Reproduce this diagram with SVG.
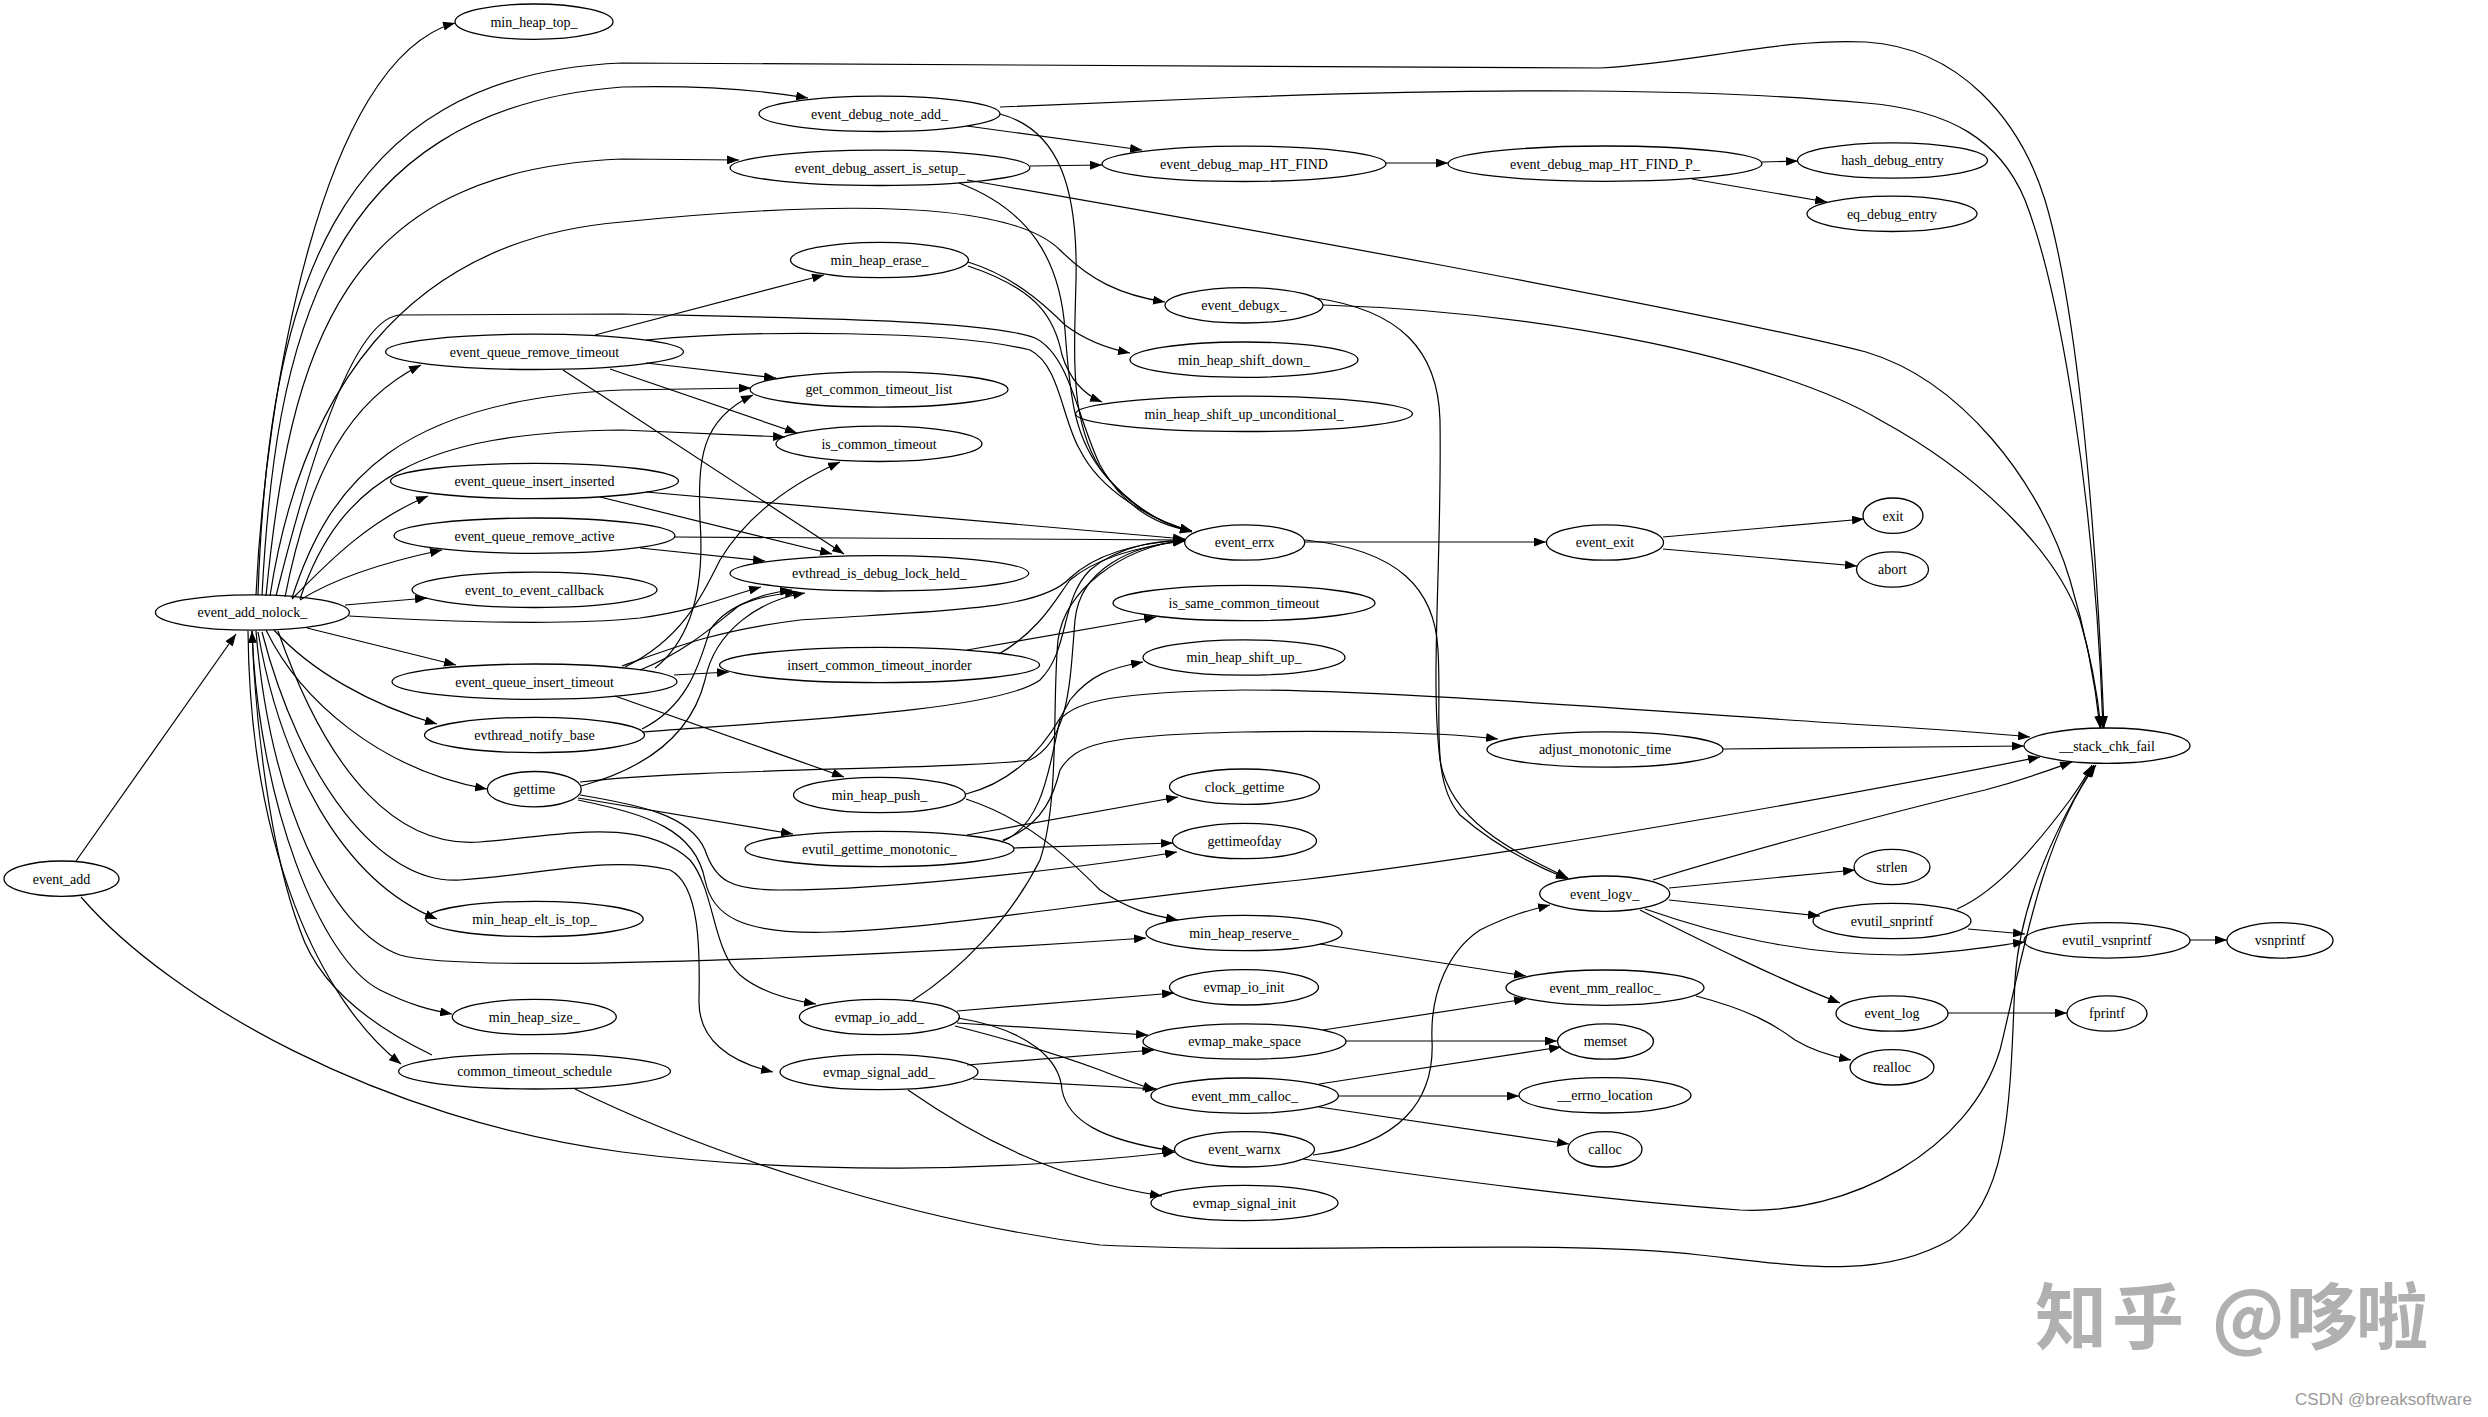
<svg xmlns="http://www.w3.org/2000/svg" width="2488" height="1417" viewBox="0 0 2488 1417">
<style>
.node ellipse{fill:none;stroke:#000;stroke-width:1.3}
.node text{font-family:"Liberation Serif","Times New Roman",serif;font-size:14px;text-anchor:middle;fill:#000}
.edges path{fill:none;stroke:#000;stroke-width:1.2;marker-end:url(#arr)}
.wm{font-family:"Noto Sans CJK SC",sans-serif;font-size:72px;font-weight:bold;fill:#b0b0b0}
.csdn{font-family:"Liberation Sans",Arial,sans-serif;font-size:17px;fill:#9a9a9a;text-anchor:end}
</style>
<defs>
<marker id="arr" markerUnits="userSpaceOnUse" markerWidth="13" markerHeight="9" refX="12" refY="4.5" orient="auto">
<path d="M0,0 L12,4.5 L0,9 z" fill="#000"/>
</marker>
</defs>
<rect width="2488" height="1417" fill="#fff"/>
<g class="edges">
<path d="M76,861 L236,634"/>
<path d="M81,897 C170,1000 380,1120 622,1152 C800,1175 1000,1172 1175,1152"/>
<path d="M256,595 C265,400 320,60 455,23"/>
<path d="M258,595 C268,300 330,75 622,63 L1600,68 C1700,62 1780,38 1866,42 C1960,48 2020,120 2045,200 C2075,300 2095,500 2104,728"/>
<path d="M262,595 C275,350 320,110 622,87 C700,85 760,90 808,98"/>
<path d="M266,596 C290,350 340,170 622,159 L739,160"/>
<path d="M270,596 C300,400 400,240 622,222 C760,208 1000,190 1060,250 C1090,280 1120,295 1165,302"/>
<path d="M276,596 C320,420 360,318 400,315 L622,314 C800,318 990,320 1035,338 C1070,355 1078,420 1100,465 C1125,510 1160,526 1192,531"/>
<path d="M285,597 C310,470 350,400 421,365"/>
<path d="M292,598 C330,480 400,400 622,390 L751,388"/>
<path d="M300,599 C340,480 420,432 622,430 L785,437"/>
<path d="M292,599 C330,560 370,520 428,496"/>
<path d="M300,600 C335,578 385,562 442,550"/>
<path d="M345,605 L427,598"/>
<path d="M349,616 C450,622 560,626 640,618 C700,610 730,595 761,587"/>
<path d="M307,628 L456,665"/>
<path d="M274,630 C310,670 370,705 437,724"/>
<path d="M266,630 C300,700 380,770 487,789"/>
<path d="M278,631 C330,780 400,848 480,842 C560,836 640,815 690,860 C715,890 712,950 740,975 C760,992 790,1000 816,1004"/>
<path d="M262,632 C300,780 380,885 460,880 C540,875 610,855 670,870 C700,885 700,950 699,1000 C698,1040 730,1062 773,1072"/>
<path d="M258,632 C280,760 340,880 437,919"/>
<path d="M252,631 C258,800 320,960 380,990 C410,1005 430,1010 452,1014"/>
<path d="M248,631 C250,850 320,1000 401,1064"/>
<path d="M256,631 C270,800 330,930 400,955 C470,975 900,955 1146,938"/>
<path d="M432,1055 C380,1030 320,990 300,930 C270,850 255,720 252,631"/>
<path d="M575,1089 C700,1150 900,1220 1100,1245 C1300,1255 1550,1238 1700,1255 C1800,1266 1880,1280 1950,1240 C2010,1200 2010,1100 2015,980 C2020,900 2060,820 2094,765"/>
<path d="M967,126 L1142,150"/>
<path d="M1000,107 L1244,97 C1500,88 1700,88 1866,103 C1950,110 2000,140 2025,200 C2060,290 2095,500 2103,728"/>
<path d="M1000,114 C1060,130 1078,190 1076,280 C1074,360 1070,420 1100,468 C1130,510 1165,525 1192,531"/>
<path d="M1030,166 L1102,165"/>
<path d="M967,180 C1200,220 1700,310 1866,352 C1960,380 2040,480 2070,580 C2085,630 2095,680 2100,728"/>
<path d="M959,183 C1030,210 1060,260 1065,330 C1070,400 1075,440 1105,475 C1135,510 1165,525 1192,532"/>
<path d="M1386,163 L1448,163"/>
<path d="M1762,162 L1798,161"/>
<path d="M1692,179 L1827,202"/>
<path d="M1315,298 C1400,310 1438,350 1440,420 C1442,560 1430,680 1440,760 C1450,820 1510,850 1568,878"/>
<path d="M1323,305 C1550,312 1780,360 1880,420 C1990,480 2060,560 2080,620 C2092,660 2098,700 2101,728"/>
<path d="M968,262 C1010,275 1040,300 1065,325 C1085,340 1105,348 1130,353"/>
<path d="M968,266 C1040,290 1055,320 1062,355 C1070,380 1085,395 1102,402"/>
<path d="M595,335 L824,275"/>
<path d="M646,363 L776,378"/>
<path d="M610,369 L797,433"/>
<path d="M563,370 L844,554"/>
<path d="M646,340 C750,330 950,330 1030,350 C1060,365 1062,420 1080,450 C1100,490 1150,520 1192,531"/>
<path d="M600,497 L832,554"/>
<path d="M646,492 L1185,539"/>
<path d="M640,548 L765,561"/>
<path d="M674,537 L1185,540"/>
<path d="M655,668 C690,640 705,590 700,520 C698,460 700,420 753,395"/>
<path d="M625,667 C680,640 700,600 720,560 C750,510 800,480 840,462"/>
<path d="M640,670 C690,650 720,620 740,605 C760,595 775,592 792,590"/>
<path d="M622,666 C680,645 720,630 800,620 C950,610 1040,610 1070,578 C1100,550 1150,542 1185,540"/>
<path d="M674,675 L729,672"/>
<path d="M615,696 L844,777"/>
<path d="M642,729 C690,705 700,660 710,630 C730,600 770,595 797,592"/>
<path d="M642,732 C800,720 1000,710 1040,680 C1070,650 1060,600 1090,570 C1120,545 1160,540 1185,541"/>
<path d="M581,786 C640,770 690,740 705,680 C715,630 760,600 805,593"/>
<path d="M580,782 C700,768 950,770 1030,760 C1070,740 1070,680 1075,620 C1080,570 1130,545 1185,541"/>
<path d="M578,798 L793,834"/>
<path d="M580,795 C640,805 690,815 705,850 C715,880 730,890 780,890 C900,890 1100,865 1177,852"/>
<path d="M578,800 C650,815 695,830 705,880 C712,915 740,935 832,932 C950,928 1100,900 1300,880 C1550,850 1900,785 2040,757"/>
<path d="M967,835 L1178,797"/>
<path d="M1014,848 L1173,843"/>
<path d="M1003,840 C1045,825 1055,790 1060,770 C1075,745 1100,735 1244,732 C1350,730 1450,733 1498,739"/>
<path d="M1001,842 C1045,825 1050,760 1060,720 C1075,700 1120,692 1244,690 C1400,690 1700,715 1866,725 C1950,730 2000,734 2030,737"/>
<path d="M967,650 L1156,617"/>
<path d="M999,654 C1040,630 1055,600 1070,580 C1100,555 1150,545 1185,541"/>
<path d="M966,794 C1020,780 1050,740 1070,700 C1090,675 1110,668 1143,662"/>
<path d="M966,799 C1030,820 1070,860 1100,890 C1130,910 1150,915 1178,920"/>
<path d="M1305,542 L1546,542"/>
<path d="M1305,540 C1400,550 1435,590 1438,650 C1442,720 1430,780 1460,815 C1500,850 1540,868 1568,879"/>
<path d="M1663,537 L1864,519"/>
<path d="M1663,549 L1857,566"/>
<path d="M1723,749 L2024,746"/>
<path d="M1653,880 C1750,850 1900,810 1985,790 C2030,778 2055,768 2072,762"/>
<path d="M1669,888 L1855,870"/>
<path d="M1669,900 L1820,916"/>
<path d="M1645,909 C1720,935 1800,955 1900,955 C1960,953 2000,945 2025,942"/>
<path d="M1640,910 C1700,940 1780,980 1840,1003"/>
<path d="M1968,929 L2025,934"/>
<path d="M1957,909 C2000,890 2040,840 2070,800 C2082,783 2088,773 2092,765"/>
<path d="M2190,940 L2227,940"/>
<path d="M1948,1013 L2067,1013"/>
<path d="M1696,996 C1750,1010 1775,1025 1795,1040 C1815,1052 1835,1057 1851,1060"/>
<path d="M1320,944 L1526,976"/>
<path d="M1313,1155 C1400,1145 1435,1100 1432,1040 C1430,990 1450,950 1480,930 C1510,915 1530,910 1550,905"/>
<path d="M1303,1159 C1450,1180 1600,1200 1740,1210 C1850,1215 1970,1150 2000,1050 C2020,970 2040,840 2096,765"/>
<path d="M957,1011 L1174,993"/>
<path d="M957,1023 L1148,1035"/>
<path d="M955,1026 C1010,1040 1060,1055 1100,1070 C1120,1078 1140,1085 1155,1090"/>
<path d="M958,1018 C1030,1030 1060,1060 1062,1090 C1068,1120 1100,1140 1174,1151"/>
<path d="M912,1001 C960,970 1010,920 1040,860 C1060,800 1052,700 1058,640 C1065,590 1120,548 1185,540"/>
<path d="M967,1065 L1154,1050"/>
<path d="M973,1079 L1157,1089"/>
<path d="M908,1090 C980,1140 1060,1180 1162,1196"/>
<path d="M1323,1030 L1526,999"/>
<path d="M1346,1041 L1557,1041"/>
<path d="M1319,1084 L1561,1047"/>
<path d="M1338,1096 L1519,1096"/>
<path d="M1319,1107 L1569,1144"/>
</g>
<g id="n-event_add" class="node"><ellipse cx="61.5" cy="878.7" rx="57.5" ry="17.7"/><text x="61.5" y="883.5">event_add</text></g>
<g id="n-event_add_nolock_" class="node"><ellipse cx="252.4" cy="612.5" rx="97" ry="17.7"/><text x="252.4" y="617.3">event_add_nolock_</text></g>
<g id="n-min_heap_top_" class="node"><ellipse cx="534" cy="21.7" rx="79" ry="17.7"/><text x="534" y="26.5">min_heap_top_</text></g>
<g id="n-event_queue_remove_timeout" class="node"><ellipse cx="534.5" cy="351.8" rx="149" ry="17.7"/><text x="534.5" y="356.6">event_queue_remove_timeout</text></g>
<g id="n-event_queue_insert_inserted" class="node"><ellipse cx="534.5" cy="481" rx="144" ry="17.7"/><text x="534.5" y="485.8">event_queue_insert_inserted</text></g>
<g id="n-event_queue_remove_active" class="node"><ellipse cx="534.5" cy="535.7" rx="140.5" ry="17.7"/><text x="534.5" y="540.5">event_queue_remove_active</text></g>
<g id="n-event_to_event_callback" class="node"><ellipse cx="534.5" cy="589.8" rx="122.5" ry="17.7"/><text x="534.5" y="594.6">event_to_event_callback</text></g>
<g id="n-event_queue_insert_timeout" class="node"><ellipse cx="534.5" cy="681.7" rx="142.5" ry="17.7"/><text x="534.5" y="686.5">event_queue_insert_timeout</text></g>
<g id="n-evthread_notify_base" class="node"><ellipse cx="534.5" cy="735" rx="110" ry="17.7"/><text x="534.5" y="739.8">evthread_notify_base</text></g>
<g id="n-gettime" class="node"><ellipse cx="534.3" cy="789.2" rx="47" ry="17.7"/><text x="534.3" y="794">gettime</text></g>
<g id="n-min_heap_elt_is_top_" class="node"><ellipse cx="534.5" cy="919" rx="108.7" ry="17.7"/><text x="534.5" y="923.8">min_heap_elt_is_top_</text></g>
<g id="n-min_heap_size_" class="node"><ellipse cx="534.3" cy="1017" rx="82" ry="17.7"/><text x="534.3" y="1021.8">min_heap_size_</text></g>
<g id="n-common_timeout_schedule" class="node"><ellipse cx="534.5" cy="1071.3" rx="136" ry="17.7"/><text x="534.5" y="1076.1">common_timeout_schedule</text></g>
<g id="n-event_debug_note_add_" class="node"><ellipse cx="879.5" cy="113.8" rx="120.5" ry="17.7"/><text x="879.5" y="118.6">event_debug_note_add_</text></g>
<g id="n-event_debug_assert_is_setup_" class="node"><ellipse cx="880" cy="167.8" rx="150" ry="17.7"/><text x="880" y="172.6">event_debug_assert_is_setup_</text></g>
<g id="n-min_heap_erase_" class="node"><ellipse cx="879.5" cy="260" rx="89" ry="17.7"/><text x="879.5" y="264.8">min_heap_erase_</text></g>
<g id="n-get_common_timeout_list" class="node"><ellipse cx="879" cy="389.5" rx="129" ry="17.7"/><text x="879" y="394.3">get_common_timeout_list</text></g>
<g id="n-is_common_timeout" class="node"><ellipse cx="879" cy="443.8" rx="103" ry="17.7"/><text x="879" y="448.6">is_common_timeout</text></g>
<g id="n-evthread_is_debug_lock_held_" class="node"><ellipse cx="879.4" cy="573.3" rx="149.4" ry="17.7"/><text x="879.4" y="578.1">evthread_is_debug_lock_held_</text></g>
<g id="n-insert_common_timeout_inorder" class="node"><ellipse cx="879.5" cy="665" rx="160" ry="17.7"/><text x="879.5" y="669.8">insert_common_timeout_inorder</text></g>
<g id="n-min_heap_push_" class="node"><ellipse cx="879.5" cy="795" rx="86" ry="17.7"/><text x="879.5" y="799.8">min_heap_push_</text></g>
<g id="n-evutil_gettime_monotonic_" class="node"><ellipse cx="879.5" cy="849" rx="134.5" ry="17.7"/><text x="879.5" y="853.8">evutil_gettime_monotonic_</text></g>
<g id="n-evmap_io_add_" class="node"><ellipse cx="879.4" cy="1017" rx="80" ry="17.7"/><text x="879.4" y="1021.8">evmap_io_add_</text></g>
<g id="n-evmap_signal_add_" class="node"><ellipse cx="879" cy="1072" rx="99" ry="17.7"/><text x="879" y="1076.8">evmap_signal_add_</text></g>
<g id="n-event_debug_map_HT_FIND" class="node"><ellipse cx="1244" cy="163.8" rx="142" ry="17.7"/><text x="1244" y="168.6">event_debug_map_HT_FIND</text></g>
<g id="n-event_debugx_" class="node"><ellipse cx="1244" cy="305.3" rx="79" ry="17.7"/><text x="1244" y="310.1">event_debugx_</text></g>
<g id="n-min_heap_shift_down_" class="node"><ellipse cx="1244" cy="359.7" rx="114" ry="17.7"/><text x="1244" y="364.5">min_heap_shift_down_</text></g>
<g id="n-min_heap_shift_up_unconditional_" class="node"><ellipse cx="1244" cy="413.8" rx="168.5" ry="17.7"/><text x="1244" y="418.6">min_heap_shift_up_unconditional_</text></g>
<g id="n-event_errx" class="node"><ellipse cx="1244.7" cy="542.5" rx="60" ry="17.7"/><text x="1244.7" y="547.3">event_errx</text></g>
<g id="n-is_same_common_timeout" class="node"><ellipse cx="1244" cy="603" rx="131" ry="17.7"/><text x="1244" y="607.8">is_same_common_timeout</text></g>
<g id="n-min_heap_shift_up_" class="node"><ellipse cx="1244" cy="657.5" rx="101" ry="17.7"/><text x="1244" y="662.3">min_heap_shift_up_</text></g>
<g id="n-clock_gettime" class="node"><ellipse cx="1244.5" cy="786.7" rx="75" ry="17.7"/><text x="1244.5" y="791.5">clock_gettime</text></g>
<g id="n-gettimeofday" class="node"><ellipse cx="1244.5" cy="841" rx="72" ry="17.7"/><text x="1244.5" y="845.8">gettimeofday</text></g>
<g id="n-min_heap_reserve_" class="node"><ellipse cx="1244" cy="933" rx="98" ry="17.7"/><text x="1244" y="937.8">min_heap_reserve_</text></g>
<g id="n-evmap_io_init" class="node"><ellipse cx="1244" cy="987.3" rx="74.5" ry="17.7"/><text x="1244" y="992.1">evmap_io_init</text></g>
<g id="n-evmap_make_space" class="node"><ellipse cx="1244.5" cy="1041.5" rx="101.5" ry="17.7"/><text x="1244.5" y="1046.3">evmap_make_space</text></g>
<g id="n-event_mm_calloc_" class="node"><ellipse cx="1244.7" cy="1095.7" rx="93.7" ry="17.7"/><text x="1244.7" y="1100.5">event_mm_calloc_</text></g>
<g id="n-event_warnx" class="node"><ellipse cx="1244.5" cy="1149.3" rx="70" ry="17.7"/><text x="1244.5" y="1154.1">event_warnx</text></g>
<g id="n-evmap_signal_init" class="node"><ellipse cx="1244.5" cy="1203" rx="93.5" ry="17.7"/><text x="1244.5" y="1207.8">evmap_signal_init</text></g>
<g id="n-event_debug_map_HT_FIND_P_" class="node"><ellipse cx="1605" cy="163.7" rx="157" ry="17.7"/><text x="1605" y="168.5">event_debug_map_HT_FIND_P_</text></g>
<g id="n-event_exit" class="node"><ellipse cx="1605" cy="542.5" rx="58.5" ry="17.7"/><text x="1605" y="547.3">event_exit</text></g>
<g id="n-adjust_monotonic_time" class="node"><ellipse cx="1605" cy="749.5" rx="118" ry="17.7"/><text x="1605" y="754.3">adjust_monotonic_time</text></g>
<g id="n-event_logv_" class="node"><ellipse cx="1604.7" cy="893.7" rx="65" ry="17.7"/><text x="1604.7" y="898.5">event_logv_</text></g>
<g id="n-event_mm_realloc_" class="node"><ellipse cx="1605" cy="987.7" rx="99" ry="17.7"/><text x="1605" y="992.5">event_mm_realloc_</text></g>
<g id="n-memset" class="node"><ellipse cx="1605.5" cy="1041.5" rx="48" ry="17.7"/><text x="1605.5" y="1046.3">memset</text></g>
<g id="n-__errno_location" class="node"><ellipse cx="1605" cy="1095.3" rx="86" ry="17.7"/><text x="1605" y="1100.1">__errno_location</text></g>
<g id="n-calloc" class="node"><ellipse cx="1605" cy="1149.3" rx="37" ry="17.7"/><text x="1605" y="1154.1">calloc</text></g>
<g id="n-hash_debug_entry" class="node"><ellipse cx="1892.5" cy="160.5" rx="95" ry="17.7"/><text x="1892.5" y="165.3">hash_debug_entry</text></g>
<g id="n-eq_debug_entry" class="node"><ellipse cx="1892" cy="213.8" rx="85" ry="17.7"/><text x="1892" y="218.6">eq_debug_entry</text></g>
<g id="n-exit" class="node"><ellipse cx="1893" cy="515.7" rx="30" ry="17.7"/><text x="1893" y="520.5">exit</text></g>
<g id="n-abort" class="node"><ellipse cx="1892.5" cy="569.5" rx="36" ry="17.7"/><text x="1892.5" y="574.3">abort</text></g>
<g id="n-strlen" class="node"><ellipse cx="1892" cy="867" rx="38" ry="17.7"/><text x="1892" y="871.8">strlen</text></g>
<g id="n-evutil_snprintf" class="node"><ellipse cx="1892" cy="921" rx="79" ry="17.7"/><text x="1892" y="925.8">evutil_snprintf</text></g>
<g id="n-event_log" class="node"><ellipse cx="1892" cy="1013.5" rx="56" ry="17.7"/><text x="1892" y="1018.3">event_log</text></g>
<g id="n-realloc" class="node"><ellipse cx="1892" cy="1067.3" rx="42" ry="17.7"/><text x="1892" y="1072.1">realloc</text></g>
<g id="n-__stack_chk_fail" class="node"><ellipse cx="2107" cy="745.7" rx="83" ry="17.7"/><text x="2107" y="750.5">__stack_chk_fail</text></g>
<g id="n-evutil_vsnprintf" class="node"><ellipse cx="2107" cy="940.4" rx="83" ry="17.7"/><text x="2107" y="945.2">evutil_vsnprintf</text></g>
<g id="n-fprintf" class="node"><ellipse cx="2107" cy="1013.5" rx="40" ry="17.7"/><text x="2107" y="1018.3">fprintf</text></g>
<g id="n-vsnprintf" class="node"><ellipse cx="2280" cy="940.4" rx="53" ry="17.7"/><text x="2280" y="945.2">vsnprintf</text></g>
<g id="watermark">
<text class="wm" y="1343"><tspan x="2035">知</tspan><tspan x="2112">乎</tspan><tspan x="2212">@</tspan><tspan x="2286">哆</tspan><tspan x="2356">啦</tspan></text>
<text class="csdn" x="2472" y="1405">CSDN @breaksoftware</text>
</g>
</svg>
